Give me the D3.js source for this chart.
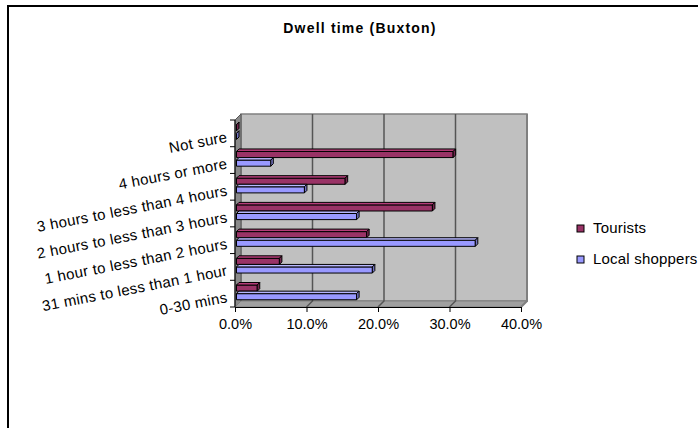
<!DOCTYPE html>
<html>
<head>
<meta charset="utf-8">
<script src="https://cdn.jsdelivr.net/npm/d3@7"></script>
<style>
  body { margin: 0; background: #fff; }
  svg { display: block; }
  text { font-family: "Liberation Sans", Arial, sans-serif; fill: #000; }
</style>
</head>
<body>
<svg id="chart" width="698" height="428"></svg>
<script>
// Dwell time survey, Buxton (percent of respondents)
const categories = [
  "Not sure",
  "4 hours or more",
  "3 hours to less than 4 hours",
  "2 hours to less than 3 hours",
  "1 hour to less than 2 hours",
  "31 mins to less than 1 hour",
  "0-30 mins"
];
const seriesNames = ["Tourists", "Local shoppers"];
const tourists = [0, 30.3, 15.2, 27.4, 18.2, 6.0, 2.9];
const localShoppers = [0, 4.8, 9.5, 16.8, 33.4, 19.0, 16.8];
const xTicks = [0, 10, 20, 30, 40];
const seriesColors = ["#993366", "#9999FF"];

const svg = d3.select("#chart");

// chart frame (open on the right and bottom)
svg.append("path")
  .attr("d", "M8,428 L8,6 L698,6")
  .attr("fill", "none").attr("stroke", "#000").attr("stroke-width", 2);

// title
svg.append("text")
  .attr("x", 360).attr("y", 33)
  .attr("text-anchor", "middle")
  .style("font-size", "14px").style("font-weight", "bold")
  .style("letter-spacing", "1.2px")
  .text("Dwell time (Buxton)");

// 3D plot box: front plane scales plus a depth offset
const x = d3.scaleLinear().domain([0, 40]).range([235, 521]);
const y = d3.scaleBand().domain(categories).range([120, 307]);
const sub = d3.scaleBand().domain(seriesNames).range([0, y.bandwidth()]).paddingOuter(0.55);
const D = 6;                       // wall depth offset
const [x0, x1] = x.range();
const [yTop, yBot] = y.range();

const box = svg.append("g");
// back wall
box.append("rect")
  .attr("x", x0 + D).attr("y", yTop - D)
  .attr("width", x1 - x0).attr("height", yBot - yTop)
  .attr("fill", "#c0c0c0").attr("stroke", "#808080").attr("stroke-width", 1.5);
// left side wall
box.append("polygon")
  .attr("points", [[x0, yTop], [x0 + D, yTop - D], [x0 + D, yBot - D], [x0, yBot]].join(" "))
  .attr("fill", "#8a8a8a").attr("stroke", "#555").attr("stroke-width", 1);
// floor
box.append("polygon")
  .attr("points", [[x0, yBot], [x0 + D, yBot - D], [x1 + D, yBot - D], [x1, yBot]].join(" "))
  .attr("fill", "#a0a0a0").attr("stroke", "#808080").attr("stroke-width", 1);

// gridlines on the back wall and across the floor
const grid = box.append("g").attr("stroke", "#555").attr("stroke-width", 1.5).attr("fill", "none");
xTicks.filter(t => t > 0 && t < 40).forEach(t => {
  grid.append("path")
    .attr("d", `M${x(t) + D},${yTop - D} L${x(t) + D},${yBot - D} L${x(t)},${yBot}`);
});
// right edge of back wall
box.append("path")
  .attr("d", `M${x1 + D},${yTop - D} L${x1 + D},${yBot - D} L${x1},${yBot}`)
  .attr("fill", "none").attr("stroke", "#808080").attr("stroke-width", 2);

// bars: each drawn as a front face, a top face and an end cap
const bx = 1.5, by = -2.5, t3 = 2.5;
const rows = [];
categories.forEach((c, i) => {
  rows.push({ cat: c, series: seriesNames[0], value: tourists[i], color: seriesColors[0] });
  rows.push({ cat: c, series: seriesNames[1], value: localShoppers[i], color: seriesColors[1] });
});

const bars = svg.append("g").attr("stroke", "#000").attr("stroke-width", 1).attr("stroke-linejoin", "round");
rows.forEach(r => {
  const left = x(0) + bx;
  const right = x(r.value) + bx;
  const top = y(r.cat) + sub(r.series) + by;
  const h = sub.bandwidth();
  const c = d3.color(r.color);
  const g = bars.append("g");
  // front face
  g.append("rect")
    .attr("x", left).attr("y", top + t3)
    .attr("width", Math.max(0, right - left)).attr("height", h - t3)
    .attr("fill", r.color);
  // top face
  g.append("polygon")
    .attr("points", [[left, top + t3], [left + t3, top], [right + t3, top], [right, top + t3]].join(" "))
    .attr("fill", c.brighter(0.5).formatHex());
  // end cap
  g.append("polygon")
    .attr("points", [[right, top + t3], [right + t3, top], [right + t3, top + h - t3], [right, top + h]].join(" "))
    .attr("fill", c.darker(0.8).formatHex());
});

// left axis with ticks at band boundaries
const yAxis = svg.append("g").attr("stroke", "#000").attr("stroke-width", 1);
yAxis.append("line").attr("x1", x0).attr("x2", x0).attr("y1", yTop).attr("y2", yBot);
categories.concat([null]).forEach(c => {
  const yy = c === null ? yBot : y(c);
  yAxis.append("line").attr("x1", x0 - 5).attr("x2", x0).attr("y1", yy).attr("y2", yy);
});

// category labels, slanted
const labelY = d => y(d) + y.bandwidth() / 2 + 3;
svg.append("g").selectAll("text")
  .data(categories)
  .join("text")
  .attr("x", 227)
  .attr("y", labelY)
  .attr("text-anchor", "end")
  .attr("dominant-baseline", "central")
  .attr("transform", d => `rotate(-11, 227, ${labelY(d)})`)
  .style("font-size", "15px")
  .style("letter-spacing", "0.3px")
  .text(d => d);

// bottom axis
const xAxis = svg.append("g")
  .attr("transform", `translate(0,${yBot})`)
  .call(d3.axisBottom(x).tickValues(xTicks).tickSize(5).tickPadding(7)
    .tickFormat(d => d3.format(".1f")(d) + "%"));
xAxis.select(".domain").attr("stroke", "#000");
xAxis.selectAll(".tick line").attr("stroke", "#000");
xAxis.selectAll("text")
  .style("font-size", "14.5px")
  .style("font-family", "\"Liberation Sans\", Arial, sans-serif");

// legend
const legend = svg.append("g");
seriesNames.forEach((s, i) => {
  const ly = 225 + i * 31;
  legend.append("rect")
    .attr("x", 577).attr("y", ly).attr("width", 7).attr("height", 7)
    .attr("fill", seriesColors[i]).attr("stroke", "#000").attr("stroke-width", 1);
  legend.append("text")
    .attr("x", 593).attr("y", ly + 8)
    .style("font-size", "15px")
    .style("letter-spacing", "0.2px")
    .text(s);
});
</script>
</body>
</html>
